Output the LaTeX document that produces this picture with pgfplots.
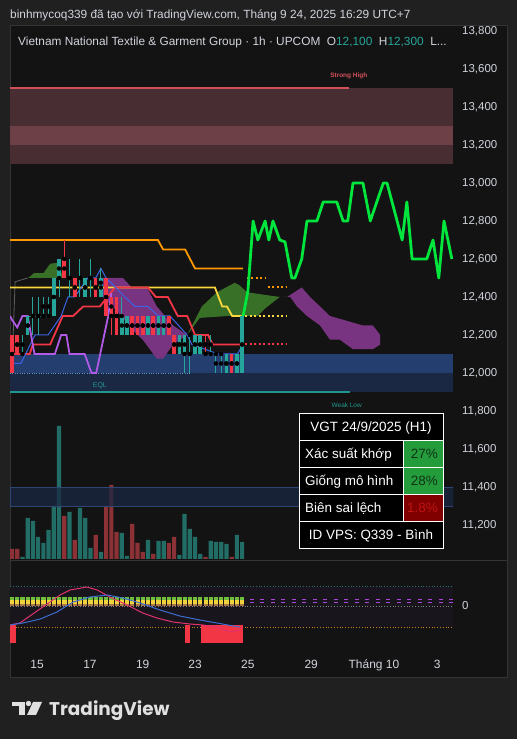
\documentclass[border=0pt]{standalone}
\usepackage{fontspec}
\setmainfont{Liberation Sans}
\newfontfamily\tvfont{Poppins}
\usepackage{pgfplots}
\usepackage{pgfplotstable}
\pgfplotsset{compat=1.18}
\definecolor{bgout}{RGB}{32,32,32}
\definecolor{bgpane}{RGB}{19,19,19}
\definecolor{pborder}{RGB}{52,52,52}
\definecolor{txt}{RGB}{209,212,220}
\definecolor{upc}{RGB}{38,166,154}
\definecolor{dnc}{RGB}{242,54,69}
\definecolor{volup}{RGB}{34,110,102}
\definecolor{voldn}{RGB}{140,50,54}
\definecolor{orangel}{RGB}{255,152,0}
\definecolor{yellowl}{RGB}{250,215,60}
\definecolor{redl}{RGB}{242,54,69}
\definecolor{bluel}{RGB}{60,100,230}
\definecolor{purplel}{RGB}{176,90,230}
\definecolor{cloudg}{RGB}{56,112,40}
\definecolor{cloudp}{RGB}{120,52,128}
\definecolor{fcg}{RGB}{0,230,60}
\definecolor{shzone}{RGB}{72,46,50}
\definecolor{shband}{RGB}{108,64,70}
\definecolor{shline}{RGB}{210,80,90}
\definecolor{bzone1}{RGB}{36,62,112}
\definecolor{bzone2}{RGB}{26,40,68}
\definecolor{wlow}{RGB}{32,150,140}
\definecolor{cellg}{RGB}{36,156,60}
\definecolor{cellr}{RGB}{128,0,0}
\definecolor{indbg}{RGB}{24,21,28}

% candles: i open high low close volume
\pgfplotstableread{
i o h l c v
2 12100 12200 12100 12100 2
3 12200 12300 12200 12300 41
4 12300 12400 12200 12300 38
5 12300 12400 12200 12300 22
6 12300 12400 12300 12300 16
7 12300 12400 12300 12300 29
8 12300 12500 12300 12500 53
9 12500 12600 12400 12600 133
11 12500 12600 12400 12500 47
13 12500 12600 12400 12500 51
14 12400 12500 12400 12500 41
15 12500 12600 12400 12500 11
17 12400 12550 12400 12500 7
21 12200 12400 12200 12300 26
22 12200 12300 12200 12300 3
26 12200 12300 12200 12300 19
28 12200 12300 12200 12300 18
29 12200 12300 12200 12300 18
32 12100 12200 12100 12200 4
33 12100 12200 12000 12200 45
34 12200 12200 12000 12200 30
35 12100 12200 12100 12200 22
36 12100 12200 12100 12200 5
38 12100 12200 12100 12100 18
39 12100 12100 12000 12100 17
40 12100 12100 12000 12100 17
41 12000 12100 12000 12100 15
43 12000 12100 12000 12100 24
44 12000 12300 12000 12300 17
}\upt
\pgfplotstableread{
i o h l c v
0 12200 12200 12000 12000 10
1 12200 12200 12100 12100 10
10 12600 12700 12500 12500 43
12 12500 12500 12400 12400 19
16 12500 12500 12400 12400 24
18 12500 12500 12300 12300 53
19 12400 12400 12200 12300 74
20 12400 12400 12200 12200 27
23 12300 12300 12200 12200 35
24 12300 12300 12200 12200 16
25 12300 12300 12200 12200 7
27 12300 12300 12200 12200 5
30 12300 12300 12200 12200 16
31 12200 12200 12100 12100 22
37 12100 12200 12100 12100 2
42 12100 12100 12000 12000 2
}\dnt

\begin{document}
\begin{tikzpicture}
\begin{scope}[x=1bp,y=1bp]
\useasboundingbox (0,0) rectangle (517,739);
\fill[bgout] (0,0) rectangle (517,739);
\fill[bgpane,draw=pborder,line width=1bp] (10,61) rectangle (507,713);
\draw[pborder,line width=0.8bp] (10,179) -- (507,179);
\node[anchor=base west,inner sep=0,text=txt,font=\fontsize{11.9}{13}\selectfont] at (10,720)
 {binhmycoq339 đã tạo với TradingView.com, Tháng 9 24, 2025 16:29 UTC+7};
\node[anchor=base west,inner sep=0,text=txt,font=\fontsize{11.9}{13}\selectfont] at (18,693)
 {Vietnam National Textile \& Garment Group · 1h · UPCOM\hspace{0.55em}O\textcolor{upc}{12,100}\hspace{0.55em}H\textcolor{upc}{12,300}\hspace{0.55em}L...};
\end{scope}

% ---------- volume ----------
\begin{axis}[at={(10bp,180bp)},anchor=south west,scale only axis,width=443bp,height=133bp,
 xmin=-0.38,xmax=84.32,ymin=0,ymax=133,axis line style={draw=none},ticks=none]
\addplot[ybar,bar width=4.2bp,bar shift=0pt,fill=volup,draw=none] table[x=i,y=v]{\upt};
\addplot[ybar,bar width=4.2bp,bar shift=0pt,fill=voldn,draw=none] table[x=i,y=v]{\dnt};
\end{axis}

% ---------- price ----------
\begin{axis}[at={(10bp,179bp)},anchor=south west,scale only axis,width=443bp,height=532bp,
 xmin=-0.38,xmax=84.32,ymin=11015.8,ymax=13815.8,
 axis line style={draw=none},tick style={draw=none},xtick=\empty,no markers,
 ytick={11200,11400,11600,11800,12000,12200,12400,12600,12800,13000,13200,13400,13600,13800},
 yticklabel pos=right,scaled y ticks=false,
 yticklabel style={anchor=west,inner sep=0pt,xshift=9bp,font=\fontsize{11.5}{12}\selectfont,text=txt},
 /pgf/number format/.cd,fixed,precision=0,1000 sep={,},assume math mode=true]
% zones
\addplot[fill=shzone,draw=none] coordinates {(-0.38,13100)(84.32,13100)(84.32,13500)(-0.38,13500)} -- cycle;
\addplot[fill=shband,draw=none] coordinates {(-0.38,13200)(84.32,13200)(84.32,13300)(-0.38,13300)} -- cycle;
\addplot[shline,line width=1.2bp] coordinates {(-0.38,13500)(64.4,13500)};
\addplot[fill=bzone1,draw=none] coordinates {(-0.38,12000)(84.32,12000)(84.32,12100)(-0.38,12100)} -- cycle;
\addplot[fill=bzone2,draw=none] coordinates {(-0.38,11900)(84.32,11900)(84.32,12000)(-0.38,12000)} -- cycle;
\addplot[wlow,line width=1.2bp] coordinates {(-0.38,11900)(64.6,11900)};
\addplot[color={rgb,255:red,90;green,150;blue,190},dotted] coordinates {(-0.38,12000)(34,12000)};
\addplot[fill=bzone2,fill opacity=0.75,draw={rgb,255:red,45;green,70;blue,115}] coordinates {(-0.38,11300)(84.32,11300)(84.32,11400)(-0.38,11400)} -- cycle;
% clouds
\addplot[fill=cloudg,draw=none] coordinates {(3.1,12500)(4.2,12525)(6,12525)(7.3,12575)(8.8,12580)(9.8,12500)} -- cycle;
\addplot[fill=cloudp,draw=none] coordinates {(16.8,12500)(21.2,12500)(22.9,12450)(25.8,12450)(27.7,12350)(30.8,12250)(33.5,12200)(32.1,12175)(30.8,12150)(28.9,12075)(27.7,12075)(25,12175)(23.1,12225)(20.1,12325)(17.4,12400)} -- cycle;
\addplot[fill=cloudg,draw=none] coordinates {(33.5,12200)(36.3,12350)(39.2,12425)(42.6,12475)(43.6,12460)(44.9,12425)(51.2,12400)(48.4,12340)(47,12300)(41.3,12300)(35.9,12290)} -- cycle;
\addplot[fill=cloudp,draw=none] coordinates {(51.6,12400)(52.6,12400)(55.4,12450)(57,12400)(58.9,12350)(60.8,12300)(67.1,12250)(69,12250)(70.4,12200)(70.4,12150)(69,12125)(65.2,12125)(62.7,12175)(60.8,12175)(58.9,12250)(56.4,12300)(54.5,12350)(53.2,12400)} -- cycle;
\addplot[color={rgb,255:red,95;green,95;blue,95},line width=0.8bp] coordinates {(0.1,12100)(0.6,12480)(3,12500)};
% lines
\addplot[orangel,line width=1.8bp] coordinates {(-0.38,12700)(27.9,12700)(28.9,12650)(33.1,12650)(35.0,12550)(44.2,12550)};
\addplot[orangel,line width=2bp,dash pattern=on 2bp off 2.5bp] coordinates {(44.9,12500)(48.4,12500)};
\addplot[orangel,line width=2bp,dash pattern=on 2bp off 2.5bp] coordinates {(48.9,12450)(52.6,12450)};
\addplot[yellowl,line width=1.8bp] coordinates {(-0.38,12450)(38.8,12450)(40.2,12350)(41.1,12350)(42.1,12300)(44.2,12300)};
\addplot[yellowl,line width=2bp,dash pattern=on 2bp off 2.5bp] coordinates {(44.6,12300)(52.6,12300)};
\addplot[redl,line width=1.8bp] coordinates {(-0.38,12100)(3.4,12100)(4.0,12150)(7.3,12150)(9.7,12300)(11.7,12300)(13.6,12350)(16.8,12350)(19.7,12450)(26.0,12450)(27.5,12400)(29.8,12400)(31.7,12300)(33.5,12300)(35.0,12200)(37.5,12200)(38.4,12150)(44.2,12150)};
\addplot[redl,line width=2bp,dash pattern=on 2bp off 2.5bp] coordinates {(44.6,12150)(52.6,12150)};
\addplot[bluel,line width=1bp] coordinates {(-0.38,12050)(1.7,12050)(4.4,12200)(6.9,12200)(9.4,12300)(10.7,12400)(12.0,12400)(14.5,12500)(16.0,12500)(17.0,12550)(18.0,12500)(21.6,12400)(23.5,12350)(26.0,12350)(28.0,12300)(30.2,12300)(33.5,12200)(34.4,12150)(39.4,12100)(43.1,12100)(44.2,12150)};
\addplot[purplel,line width=1.8bp] coordinates {(-0.38,12300)(0,12280)(1,12240)(2,12300)(3,12300)(4.3,12100)(8.2,12100)(9.4,12200)(10.4,12200)(11,12100)(13.9,12100)(15.2,12000)(16.1,12000)(18.4,12300)(19,12420)};
\addplot[upc,dashed,line width=0.8bp] coordinates {(3,12300)(7.5,12300)};
% candles
\addplot[only marks,mark=none,error bars/.cd,y dir=both,y explicit,error mark=none,error bar style={line width=1bp,upc}]
 table[x=i,y expr=(\thisrow{h}+\thisrow{l})/2,y error expr=(\thisrow{h}-\thisrow{l})/2]{\upt};
\addplot[only marks,mark=none,error bars/.cd,y dir=both,y explicit,error mark=none,error bar style={line width=3.6bp,upc}]
 table[x=i,y expr=(\thisrow{o}+\thisrow{c})/2,y error expr={max(abs(\thisrow{o}-\thisrow{c})/2,4)}]{\upt};
\addplot[only marks,mark=none,error bars/.cd,y dir=both,y explicit,error mark=none,error bar style={line width=1bp,dnc}]
 table[x=i,y expr=(\thisrow{h}+\thisrow{l})/2,y error expr=(\thisrow{h}-\thisrow{l})/2]{\dnt};
\addplot[only marks,mark=none,error bars/.cd,y dir=both,y explicit,error mark=none,error bar style={line width=3.6bp,dnc}]
 table[x=i,y expr=(\thisrow{o}+\thisrow{c})/2,y error expr={max(abs(\thisrow{o}-\thisrow{c})/2,4)}]{\dnt};
% forecast
\addplot[fcg,line width=2.8bp,line join=round] coordinates {(44.2,12300)(45.1,12430)(46.1,12800)(47.0,12700)(48.4,12800)(49.1,12700)(49.9,12800)(51.2,12700)(52.2,12690)(53.5,12500)(54.1,12500)(55.4,12600)(56.4,12800)(58.3,12800)(59.5,12900)(62.1,12900)(63.3,12800)(64.2,12800)(65.2,13000)(67.1,13000)(68.5,12800)(71.0,13000)(71.7,13000)(74.6,12700)(75.5,12900)(76.5,12600)(79.3,12600)(80.5,12700)(81.6,12500)(82.6,12800)(84.1,12600)};
% labels
\node[text=shline,font=\bfseries\fontsize{6.5}{7}\selectfont] at (axis cs:64.4,13565) {Strong High};
\node[text=wlow,font=\fontsize{6.5}{7}\selectfont] at (axis cs:64,11832) {Weak Low};
\node[text=wlow,font=\fontsize{7}{8}\selectfont] at (axis cs:16.8,11932) {EQL};
\end{axis}

% ---------- indicator ----------
\begin{axis}[at={(10bp,89bp)},anchor=south west,scale only axis,width=443bp,height=89bp,
 xmin=-0.38,xmax=84.32,ymin=-44,ymax=45,no markers,
 axis line style={draw=none},tick style={draw=none},
 xtick={4.8,14.9,25,35,45.1,57.2,69.2,81.3},
 xticklabels={15,17,19,23,25,29,Tháng 10,3},
 xticklabel style={anchor=base,inner sep=0pt,yshift=-19bp,font=\fontsize{12}{13}\selectfont,text=txt},
 ytick={0},yticklabel pos=right,
 yticklabel style={anchor=west,inner sep=0pt,xshift=9bp,font=\fontsize{11.5}{12}\selectfont,text=txt},
 /pgf/number format/assume math mode=true]
\addplot[fill=indbg,draw=none] coordinates {(-0.38,-21)(84.32,-21)(84.32,20)(-0.38,20)} -- cycle;
\addplot[color={rgb,255:red,40;green,110;blue,110},dotted,line width=0.8bp] coordinates {(-0.38,20)(84.32,20)};
\addplot[color={rgb,255:red,130;green,130;blue,130},dotted,line width=0.8bp] coordinates {(-0.38,0)(84.32,0)};
\addplot[color={rgb,255:red,200;green,130;blue,40},dotted,line width=0.8bp] coordinates {(-0.38,-21)(84.32,-21)};
\addplot[fill=dnc,draw=none] coordinates {(-0.38,-19)(0.8,-19)(0.8,-37)(-0.38,-37)} -- cycle;
\addplot[fill=dnc,draw=none] coordinates {(33.1,-19)(34,-19)(34,-37)(33.1,-37)} -- cycle;
\addplot[fill=dnc,draw=none] coordinates {(36.1,-19)(44.2,-19)(44.2,-37)(36.1,-37)} -- cycle;
\addplot[color={rgb,255:red,110;green,190;blue,60},line width=3bp,dash pattern=on 4.2bp off 1.03bp] coordinates {(-0.38,7.5)(44.5,7.5)};
\addplot[color={rgb,255:red,240;green,210;blue,60},line width=4bp,dash pattern=on 4.2bp off 1.03bp] coordinates {(-0.38,3.5)(44.5,3.5)};
\addplot[color={rgb,255:red,170;green,120;blue,70},line width=1.5bp,dash pattern=on 4.2bp off 1.03bp] coordinates {(-0.38,0.8)(44.5,0.8)};
\addplot[color={rgb,255:red,170;green,70;blue,220},line width=1.2bp,dash pattern=on 4bp off 6.5bp] coordinates {(45.5,6.5)(84.32,6.5)};
\addplot[color={rgb,255:red,170;green,70;blue,220},line width=1.2bp,dash pattern=on 4bp off 6.5bp] coordinates {(45.5,3.5)(84.32,3.5)};
\addplot[color={rgb,255:red,225;green,50;blue,110},line width=1bp] coordinates {(-0.38,-19)(1.5,-17)(5.9,-1)(9.2,11)(11.1,16)(14.3,19)(16.3,16)(18.7,9)(22,1)(25,-7)(27.7,-12)(30.8,-16)(34,-18)(36.5,-19)(39.2,-21)(41.7,-26)(43.6,-24)};
\addplot[color={rgb,255:red,60;green,110;blue,210},line width=1bp] coordinates {(-0.38,-19)(2.1,-17)(5.4,-13)(8.6,-6)(11.7,4)(14.9,9)(18.2,11)(21.2,8)(24.5,3)(28.3,-4)(32.1,-10)(35.9,-14)(39.2,-17)(42.3,-20)(43.6,-21)};
\end{axis}

\begin{scope}[x=1bp,y=1bp]
% ---------- info table ----------
\fill[black] (299,190) rectangle (443,325);
\fill[cellg] (403,271) rectangle (443,298);
\fill[cellg] (403,244) rectangle (443,271);
\fill[cellr] (403,217) rectangle (443,244);
\draw[white,line width=1bp] (299,190) rectangle (443,325);
\foreach \yy in {298,271,244,217} {\draw[white,line width=1bp] (299,\yy) -- (443,\yy);}
\draw[white,line width=1bp] (403,217) -- (403,298);
\begin{scope}[every node/.style={inner sep=0,font=\fontsize{13.5}{15}\selectfont}]
\node[anchor=base,text=white] at (371,307) {VGT 24/9/2025 (H1)};
\node[anchor=base west,text=white] at (305,280) {Xác suất khớp};
\node[anchor=base west,text=white] at (305,253) {Giống mô hình};
\node[anchor=base west,text=white] at (305,226) {Biên sai lệch};
\node[anchor=base east,text={rgb,255:red,15;green,50;blue,20}] at (438,280) {27\%};
\node[anchor=base east,text={rgb,255:red,15;green,50;blue,20}] at (438,253) {28\%};
\node[anchor=base east,text={rgb,255:red,190;green,20;blue,20}] at (438,226) {1.8\%};
\node[anchor=base,text=white] at (371,199) {ID VPS: Q339 - Bình};
\end{scope}
% ---------- logo ----------
\fill[white!88!black] (12,37) rectangle (25,33);
\fill[white!88!black] (19,37) rectangle (25,24);
\fill[white!88!black] (28.5,35.5) circle (2.7);
\fill[white!88!black] (33,37) -- (42,37) -- (36,24) -- (27,24) -- cycle;
\node[anchor=base west,inner sep=0,text=white!88!black,font=\tvfont\bfseries\fontsize{18.5}{19}\selectfont] at (49,23) {TradingView};
\end{scope}
\end{tikzpicture}
\end{document}
